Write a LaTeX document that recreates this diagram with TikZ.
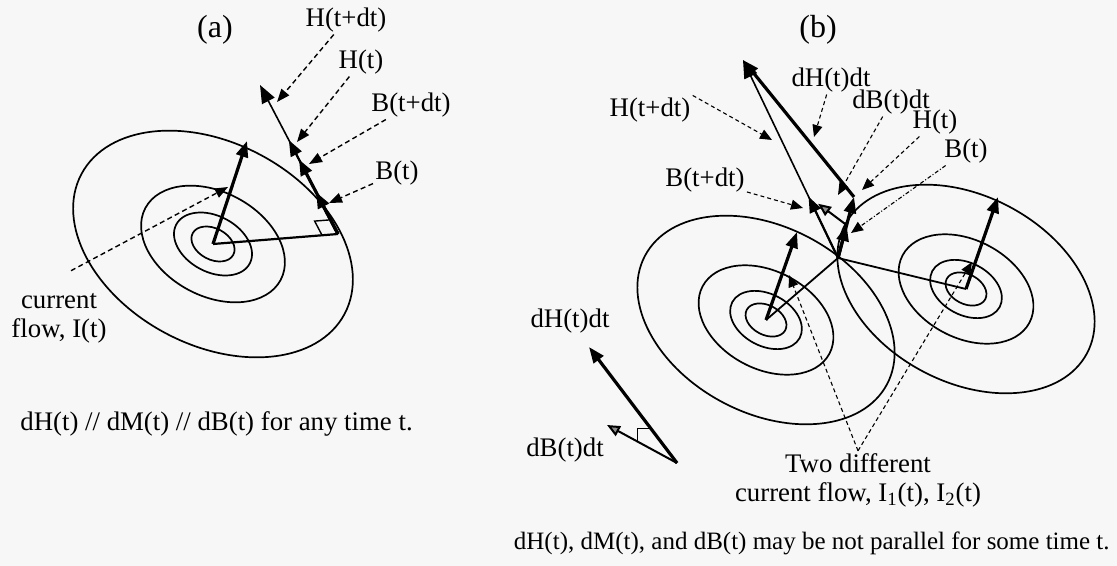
\documentclass[tikz,border=0pt]{standalone}
\usepackage{fontspec}
\setmainfont{Liberation Serif}
\usetikzlibrary{arrows.meta,calc}

\begin{document}
\begin{tikzpicture}[x=0.5pt, y=-0.5pt,
  orbit/.style={line width=0.85pt},
  vec/.style={-{Triangle[length=8pt,width=6pt]}, line width=1.6pt},
  midvec/.style={-{Triangle[length=8pt,width=6pt]}, line width=1.1pt},
  thinvec/.style={-{Triangle[length=9pt,width=7pt]}, line width=0.8pt},
  dvec/.style={-{Triangle[length=6.5pt,width=5.5pt,fill=black!45]}, line width=1pt},
  leada/.style={-{Triangle[length=6.5pt,width=5pt]}, dash pattern=on 2.5pt off 1.7pt, line width=0.7pt},
  leadb/.style={-{Triangle[length=6pt,width=5pt]}, dash pattern=on 2pt off 1.5pt, line width=0.55pt},
  lbl/.style={font=\fontsize{13.4}{14.5}\selectfont, inner sep=1pt},
  ttl/.style={font=\fontsize{16}{18}\selectfont, inner sep=1pt}
]
\useasboundingbox (0,0) rectangle (1117,566);
\fill[black!3] (0,0) rectangle (1117,566);

% (a) one current
\coordinate (ca) at (213,244);
\draw[orbit, rotate around={-28:(ca)}] (ca) ellipse [x radius=74.5pt, y radius=50.5pt];
\draw[orbit, rotate around={-28:(ca)}] (ca) ellipse [x radius=38.3pt, y radius=26pt];
\draw[orbit, rotate around={-28:(ca)}] (ca) ellipse [x radius=20.8pt, y radius=14pt];
\draw[orbit, rotate around={-28:(ca)}] (ca) ellipse [x radius=11.5pt, y radius=7.8pt];

\coordinate (pa) at (338,234);
\coordinate (ra) at (247,141);
\coordinate (hta) at (260,85);
\coordinate (hva) at ($(pa)!0.63!(hta)$);
\coordinate (bna) at ($(pa)!0.5!(hta)$);
\coordinate (bva) at ($(pa)!0.28!(hta)$);

\draw[line width=1.1pt] (ca) -- (pa);
\draw[vec] (ca) -- (ra);
\draw[thinvec] (pa) -- (hta);
\draw[midvec] (pa) -- (hva);
\draw[vec] (pa) -- (bna);
\draw[vec] (pa) -- (bva);

\coordinate (ka) at ($(pa)!8pt!(ca)$);
\coordinate (kb) at ($(pa)!8pt!(hta)$);
\draw[line width=0.7pt] (ka) -- ($(ka)+(kb)-(pa)$) -- (kb);

\node[ttl] (tla) at (215,30) {(a)};
\node[lbl] (lHta) at (346,20) {H(t+dt)};
\node[lbl] (lHa) at (361,62) {H(t)};
\node[lbl] (lBna) at (411,105) {B(t+dt)};
\node[lbl] (lBa) at (397,173) {B(t)};
\node[lbl, align=center] (cfa) at (59,318) {current\\flow, I(t)};
\node[lbl, anchor=base west] (capa) at (18,430) {dH(t) // dM(t) // dB(t) for any time t.};

\coordinate (tHta) at (277,102);
\coordinate (tHa) at (297,142);
\coordinate (tBna) at (309,164);
\coordinate (tBa) at (329,203);
\coordinate (tcfa) at (228,187);

\draw[leada] (lHta) -- (tHta);
\draw[leada] (lHa) -- (tHa);
\draw[leada] (lBna) -- (tBna);
\draw[leada] (lBa) -- (tBa);
\draw[leada] ($(cfa.north)+(12,-20)$) -- (tcfa);

% (b) two currents
\coordinate (cL) at (766,320);
\coordinate (cR) at (966,289);
\draw[orbit, rotate around={-28:(cL)}] (cL) ellipse [x radius=68.5pt, y radius=46.5pt];
\draw[orbit, rotate around={-28:(cL)}] (cL) ellipse [x radius=35.9pt, y radius=24.4pt];
\draw[orbit, rotate around={-28:(cL)}] (cL) ellipse [x radius=19.1pt, y radius=13pt];
\draw[orbit, rotate around={-28:(cL)}] (cL) ellipse [x radius=10.9pt, y radius=7.4pt];
\draw[orbit, rotate around={-28:(cR)}] (cR) ellipse [x radius=68.5pt, y radius=46.5pt];
\draw[orbit, rotate around={-28:(cR)}] (cR) ellipse [x radius=35.9pt, y radius=24.4pt];
\draw[orbit, rotate around={-28:(cR)}] (cR) ellipse [x radius=19.1pt, y radius=13pt];
\draw[orbit, rotate around={-28:(cR)}] (cR) ellipse [x radius=10.9pt, y radius=7.4pt];

\coordinate (Q) at (838,258);
\coordinate (lv) at (797,232);
\coordinate (rv) at (998,197);
\coordinate (htb) at (743,60);
\coordinate (hvb) at (854,197);
\coordinate (bvb) at ($(Q)!0.54!(hvb)$);
\coordinate (bnb) at ($(Q)!0.31!(htb)$);
\coordinate (dbb) at ($(bvb)!0.75!(bnb)$);

\draw[line width=0.9pt] (Q) -- (cL);
\draw[line width=0.9pt] (Q) -- (cR);
\draw[vec] (cL) -- (lv);
\draw[vec] (cR) -- (rv);
\draw[thinvec] (Q) -- (htb);
\draw[vec] (hvb) -- (htb);
\draw[vec] (Q) -- (hvb);
\draw[midvec] (Q) -- (bnb);
\draw[vec] (Q) -- (bvb);
\draw[dvec] (bvb) -- (dbb);

\node[ttl] (tlb) at (818,30) {(b)};
\node[lbl] (lHtb) at (650,110) {H(t+dt)};
\node[lbl] (ldHb) at (831,80) {dH(t)dt};
\node[lbl] (ldBb) at (891,102) {dB(t)dt};
\node[lbl] (lHb) at (935,122) {H(t)};
\node[lbl] (lBb) at (966,151) {B(t)};
\node[lbl] (lBnb) at (705,180) {B(t+dt)};
\node[lbl, align=center] (tdl) at (858,480) {Two different\\current flow, I\textsubscript{1}(t), I\textsubscript{2}(t)};
\node[lbl, font=\fontsize{12.5}{14}\selectfont, anchor=base east] (capb) at (1112,549) {dH(t), dM(t), and dB(t) may be not parallel for some time t.};

\coordinate (tHtb) at (772,140);
\coordinate (tdHb) at (814,137);
\coordinate (tdBb) at (838,195);
\coordinate (tHb) at (862,190);
\coordinate (tBb) at (851,233);
\coordinate (tBnb) at (803,208);
\coordinate (tL) at (789,275);
\coordinate (tR) at (972,262);

\draw[leadb] (lHtb.north east) -- (tHtb);
\draw[leadb] (ldHb) -- (tdHb);
\draw[leadb] (ldBb) -- (tdBb);
\draw[leadb] (lHb) -- (tHb);
\draw[leadb, dash pattern=on 2pt off 1pt on 0.5pt off 1pt] (lBb) -- (tBb);
\draw[leadb] (lBnb) -- (tBnb);
\draw[leadb] (tdl.north) -- (tL);
\draw[leadb] (tdl.north) -- (tR);

% inset: the two increments
\coordinate (io) at (677,463);
\coordinate (idh) at (589,347);
\coordinate (idb) at (607,425);
\coordinate (im1) at ($(io)!0.56!(idb)$);
\coordinate (im2) at ($(io)!0.3!(idh)$);
\draw[vec] (io) -- (idh);
\draw[dvec] (io) -- (idb);
\draw[line width=0.6pt] (im1) |- (im2);
\node[lbl] (lidh) at (570,321) {dH(t)dt};
\node[lbl] (lidb) at (565,450) {dB(t)dt};
\end{tikzpicture}
\end{document}
